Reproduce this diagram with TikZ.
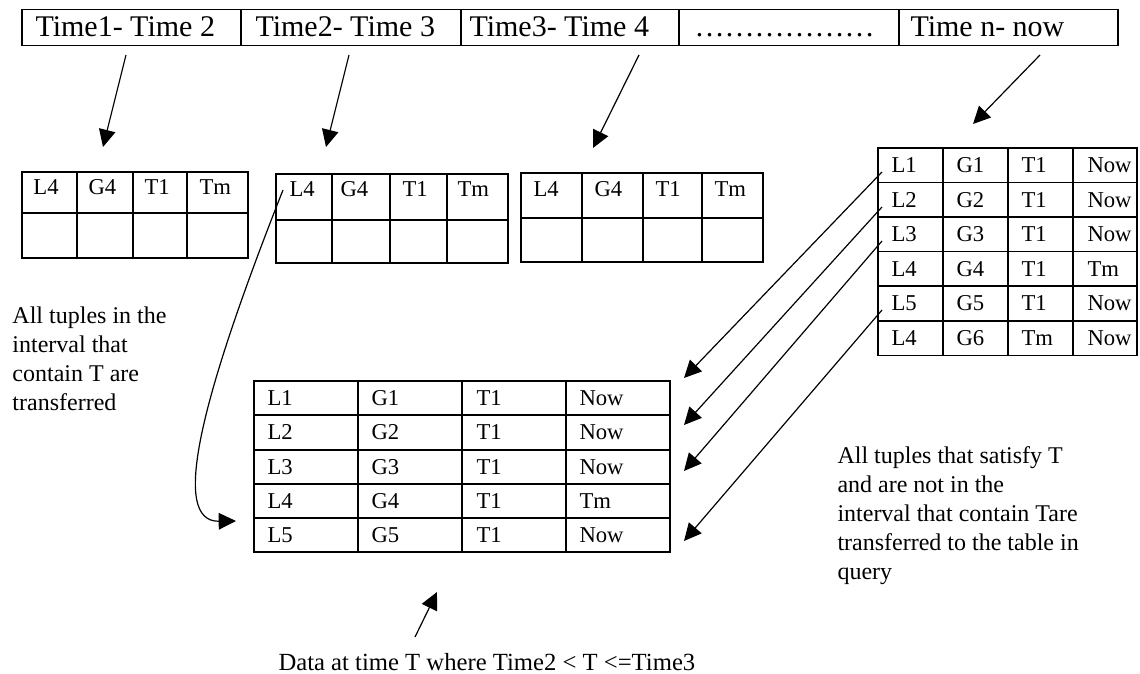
\documentclass[tikz,border=0pt]{standalone}
\usepackage{fontspec}
\setmainfont{Liberation Serif}
\usetikzlibrary{arrows.meta}

\tikzset{every picture/.style={line width=0.75pt}}
\tikzset{
  tblline/.style={line width=1.2pt},
  arr/.style={line width=0.9pt,-{Triangle[length=13pt,width=12.5pt]}},
  bartext/.style={anchor=base west,inner sep=0pt,font=\fontsize{22.5}{26}\selectfont},
  celltext/.style={anchor=base west,inner sep=0pt,font=\fontsize{17}{20}\selectfont},
  notetext/.style={anchor=base west,inner sep=0pt,font=\fontsize{18}{21}\selectfont},
}

\begin{document}
\begin{tikzpicture}[x=0.75pt,y=0.75pt,yscale=-1,xscale=1]
\useasboundingbox (0,0) rectangle (1140,674);

%Shape: Rectangle (time bar)
\draw [tblline] (22,9.5) rectangle (1118,45.5);
\draw [tblline] (241,9.5) -- (241,45.5) (461,9.5) -- (461,45.5) (679,9.5) -- (679,45.5) (899,9.5) -- (899,45.5);

% Text Node
\draw (35,37) node [bartext] (tb1) {Time1- Time 2};
% Text Node
\draw (255,37) node [bartext] (tb2) {Time2- Time 3};
% Text Node
\draw (469,37) node [bartext] (tb3) {Time3- Time 4};
% Text Node
\draw (694,37) node [bartext] (tb4) {………………};
% Text Node
\draw (910,37) node [bartext] (tb5) {Time n- now};

%Shape: Grid (first interval)
\draw [tblline] (22,172) rectangle (248,258);
\draw [tblline] (22,213) -- (248,213) (77,172) -- (77,258) (133,172) -- (133,258) (187,172) -- (187,258);
%Shape: Grid (second interval)
\draw [tblline] (276,174) rectangle (508,263);
\draw [tblline] (276,220) -- (508,220) (332,174) -- (332,263) (390,174) -- (390,263) (447,174) -- (447,263);
%Shape: Grid (third interval)
\draw [tblline] (521,173) rectangle (763,262);
\draw [tblline] (521,218) -- (763,218) (582,173) -- (582,262) (643,173) -- (643,262) (702,173) -- (702,262);

% Text Node
\draw (33,195) node [celltext] (a1) {L4};
\draw (88,195) node [celltext] (a2) {G4};
\draw (144,195) node [celltext] (a3) {T1};
\draw (199,195) node [celltext] (a4) {Tm};
% Text Node
\draw (289,196) node [celltext] (b1) {L4};
\draw (340,196) node [celltext] (b2) {G4};
\draw (402,196) node [celltext] (b3) {T1};
\draw (457,196) node [celltext] (b4) {Tm};
% Text Node
\draw (533,196) node [celltext] (c1) {L4};
\draw (594,196) node [celltext] (c2) {G4};
\draw (655,196) node [celltext] (c3) {T1};
\draw (714,196) node [celltext] (c4) {Tm};

%Shape: Grid (current data)
\draw [tblline] (878,148) rectangle (1137,355.5);
\draw [tblline] (878,182.5) -- (1137,182.5) (878,217) -- (1137,217) (878,251.5) -- (1137,251.5) (878,286) -- (1137,286) (878,321) -- (1137,321);
\draw [tblline] (943,148) -- (943,355.5) (1008,148) -- (1008,355.5) (1073,148) -- (1073,355.5);

% Text Node
\draw (891,172) node [celltext] (r11) {L1};
\draw (956,172) node [celltext] (r12) {G1};
\draw (1021,172) node [celltext] (r13) {T1};
\draw (1087,172) node [celltext] (r14) {Now};
\draw (891,207) node [celltext] (r21) {L2};
\draw (956,207) node [celltext] (r22) {G2};
\draw (1021,207) node [celltext] (r23) {T1};
\draw (1087,207) node [celltext] (r24) {Now};
\draw (891,241) node [celltext] (r31) {L3};
\draw (956,241) node [celltext] (r32) {G3};
\draw (1021,241) node [celltext] (r33) {T1};
\draw (1087,241) node [celltext] (r34) {Now};
\draw (891,276) node [celltext] (r41) {L4};
\draw (956,276) node [celltext] (r42) {G4};
\draw (1021,276) node [celltext] (r43) {T1};
\draw (1087,276) node [celltext] (r44) {Tm};
\draw (891,310) node [celltext] (r51) {L5};
\draw (956,310) node [celltext] (r52) {G5};
\draw (1021,310) node [celltext] (r53) {T1};
\draw (1087,310) node [celltext] (r54) {Now};
\draw (891,345) node [celltext] (r61) {L4};
\draw (956,345) node [celltext] (r62) {G6};
\draw (1021,345) node [celltext] (r63) {Tm};
\draw (1087,345) node [celltext] (r64) {Now};

%Shape: Grid (query result)
\draw [tblline] (254,381) rectangle (670,552);
\draw [tblline] (254,415) -- (670,415) (254,450) -- (670,450) (254,484) -- (670,484) (254,518) -- (670,518);
\draw [tblline] (358,381) -- (358,552) (462,381) -- (462,552) (566,381) -- (566,552);

% Text Node
\draw (267,405) node [celltext] (q11) {L1};
\draw (371,405) node [celltext] (q12) {G1};
\draw (476,405) node [celltext] (q13) {T1};
\draw (579,405) node [celltext] (q14) {Now};
\draw (267,439) node [celltext] (q21) {L2};
\draw (371,439) node [celltext] (q22) {G2};
\draw (476,439) node [celltext] (q23) {T1};
\draw (579,439) node [celltext] (q24) {Now};
\draw (267,474) node [celltext] (q31) {L3};
\draw (371,474) node [celltext] (q32) {G3};
\draw (476,474) node [celltext] (q33) {T1};
\draw (579,474) node [celltext] (q34) {Now};
\draw (267,508) node [celltext] (q41) {L4};
\draw (371,508) node [celltext] (q42) {G4};
\draw (476,508) node [celltext] (q43) {T1};
\draw (579,508) node [celltext] (q44) {Tm};
\draw (267,542) node [celltext] (q51) {L5};
\draw (371,542) node [celltext] (q52) {G5};
\draw (476,542) node [celltext] (q53) {T1};
\draw (579,542) node [celltext] (q54) {Now};

% arrow ends
\coordinate (t1s) at (126,55);  \coordinate (t1e) at (103,147);
\coordinate (t2s) at (349,55);  \coordinate (t2e) at (326,147);
\coordinate (t3s) at (639,55);  \coordinate (t3e) at (593,148);
\coordinate (t4s) at (1040,55); \coordinate (t4e) at (973,124);
\coordinate (m1s) at (882,172); \coordinate (m1e) at (684,378);
\coordinate (m2s) at (882,207); \coordinate (m2e) at (684,425);
\coordinate (m3s) at (882,241); \coordinate (m3e) at (684,471);
\coordinate (m5s) at (882,310); \coordinate (m5e) at (684,541);
\coordinate (bs) at (283,190);  \coordinate (be) at (236,521);
\coordinate (ds) at (415,637);  \coordinate (de) at (437,592);

%Straight Lines
\draw [arr] (t1s) -- (t1e);
\draw [arr] (t2s) -- (t2e);
\draw [arr] (t3s) -- (t3e);
\draw [arr] (t4s) -- (t4e);
%Straight Lines
\draw [arr] (m1s) -- (m1e);
\draw [arr] (m2s) -- (m2e);
\draw [arr] (m3s) -- (m3e);
\draw [arr] (m5s) -- (m5e);
%Curve Lines
\draw [arr] (bs) .. controls (200,400) and (170,522) .. (be);
%Straight Lines
\draw [arr] (ds) -- (de);

% Text Node
\draw (12,323) node [notetext] (nl1) {All tuples in the};
\draw (12,352) node [notetext] (nl2) {interval that};
\draw (12,381) node [notetext] (nl3) {contain T are};
\draw (12,410) node [notetext] (nl4) {transferred};
% Text Node
\draw (837,463) node [notetext] (nr1) {All tuples that satisfy T};
\draw (837,492) node [notetext] (nr2) {and are not in the};
\draw (837,521) node [notetext] (nr3) {interval that contain Tare};
\draw (837,550) node [notetext] (nr4) {transferred to the table in};
\draw (837,579) node [notetext] (nr5) {query};
% Text Node
\draw (278,670) node [notetext,font=\fontsize{18.5}{21}\selectfont] (dl) {Data at time T where Time2 < T <=Time3};

\end{tikzpicture}
\end{document}
